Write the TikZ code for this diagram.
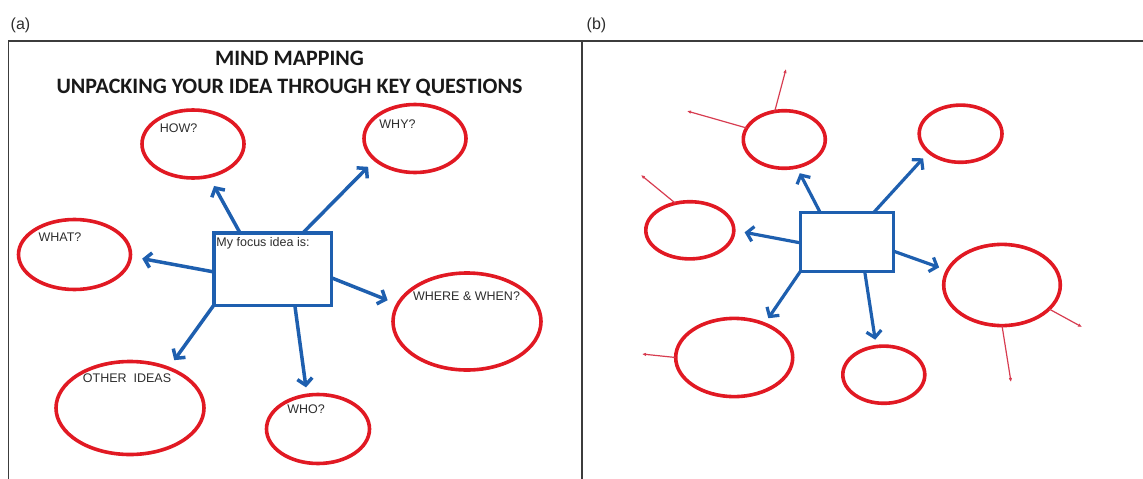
\documentclass[tikz,border=0pt]{standalone}
\usepackage{fontspec}
\setmainfont{Liberation Sans}
\newfontfamily\titlefont{Carlito}
\usetikzlibrary{arrows.meta,shapes.geometric,calc}
\definecolor{eblue}{RGB}{30,95,175}
\definecolor{ered}{RGB}{225,25,35}
\definecolor{tred}{RGB}{215,60,80}
\definecolor{framecol}{RGB}{60,60,60}
\definecolor{ink}{RGB}{45,45,45}
\begin{document}
\begin{tikzpicture}[x=1pt,y=-1pt,
  bubble/.style={ellipse,draw=ered,line width=3.6pt,inner sep=0pt,outer sep=0pt},
  focus/.style={rectangle,draw=eblue,line width=3.5pt,inner sep=0pt,outer sep=0pt},
  link/.style={draw=eblue,line width=3.5pt,-{Straight Barb[length=6.5pt,width=15pt]}},
  linkb/.style={link,line width=3.2pt},
  twig/.style={draw=tred,line width=1.2pt,-{Latex[length=4pt,width=3.5pt]}},
  qtext/.style={font=\fontsize{12.5}{14}\selectfont,text=ink,inner sep=0pt},
  paneltag/.style={font=\fontsize{16}{18}\selectfont,text=ink,inner sep=0pt},
  frameline/.style={draw=framecol,line width=1.5pt}]
\useasboundingbox (0,0) rectangle (1143,479);

% frame
\draw[frameline] (8.5,479) -- (8.5,41) -- (1143,41);
\draw[frameline] (582,41) -- (582,479);

\node[paneltag] (taga) at (20.5,25) {(a)};
\node[paneltag] (tagb) at (596.5,25) {(b)};

% title
\node[font=\titlefont\bfseries\fontsize{22}{28}\selectfont,align=center,inner sep=0pt,text=black!90] (title) at (289.5,74) {MIND MAPPING\\UNPACKING YOUR IDEA THROUGH KEY QUESTIONS};

% panel (a)
\node[focus,minimum width=117.5pt,minimum height=72.5pt] (focusA) at (272.5,269) {};
\node[bubble,minimum width=102pt,minimum height=68pt] (how) at (193,144) {};
\node[bubble,minimum width=102pt,minimum height=68pt] (why) at (415,138.5) {};
\node[bubble,minimum width=112pt,minimum height=70pt] (what) at (74.5,254.5) {};
\node[bubble,minimum width=148pt,minimum height=97pt] (where) at (467,321.5) {};
\node[bubble,minimum width=148pt,minimum height=93pt] (other) at (130,408) {};
\node[bubble,minimum width=103pt,minimum height=69pt] (who) at (318,429) {};

\node[qtext] (howlbl) at (178.5,128) {HOW?};
\node[qtext] (whylbl) at (397.5,124) {WHY?};
\node[qtext] (whatlbl) at (60,237) {WHAT?};
\node[qtext] (focuslbl) at (263,243) {My focus idea is:};
\node[qtext] (wherelbl) at (466.5,296) {WHERE \& WHEN?};
\node[qtext] (otherlbl) at (127,378) {OTHER\ \ IDEAS};
\node[qtext] (wholbl) at (306,409) {WHO?};

\draw[link,shorten >=11pt] ($(focusA.north west)!0.223!(focusA.north east)$) -- (how.296);
\draw[link,shorten >=10pt] ($(focusA.north west)!0.76!(focusA.north east)$) -- (why.208);
\draw[link,shorten >=12pt] ($(focusA.north west)!0.54!(focusA.south west)$) -- (what.358);
\draw[link,shorten >=11pt] ($(focusA.north east)!0.62!(focusA.south east)$) -- (where.166);
\draw[link,shorten >=10pt] (focusA.south west) -- (other.46);
\draw[link,shorten >=8pt] ($(focusA.south west)!0.69!(focusA.south east)$) -- (who.108);

% panel (b)
\node[focus,line width=3.2pt,minimum width=93pt,minimum height=59pt] (focusB) at (847,241.7) {};
\node[bubble,minimum width=82pt,minimum height=57.6pt] (bt) at (784.3,139.5) {};
\node[bubble,minimum width=82.8pt,minimum height=57.2pt] (btr) at (960.6,133.7) {};
\node[bubble,minimum width=88pt,minimum height=57.2pt] (bl) at (689.8,230.3) {};
\node[bubble,minimum width=116.6pt,minimum height=81.2pt] (br) at (1002,285) {};
\node[bubble,minimum width=117pt,minimum height=78.2pt] (bbl) at (734.2,357.5) {};
\node[bubble,minimum width=82pt,minimum height=57.2pt] (bbm) at (883.8,374.7) {};

\draw[linkb,shorten >=7pt] ($(focusB.north west)!0.21!(focusB.north east)$) -- (bt.294);
\draw[linkb,shorten >=8.5pt] ($(focusB.north west)!0.79!(focusB.north east)$) -- (btr.210);
\draw[linkb,shorten >=11pt] ($(focusB.north west)!0.52!(focusB.south west)$) -- (bl.0);
\draw[linkb,shorten >=9pt] ($(focusB.north east)!0.66!(focusB.south east)$) -- (br.165);
\draw[linkb,shorten >=7pt] (focusB.south west) -- (bbl.48);
\draw[linkb,shorten >=7pt] ($(focusB.south west)!0.69!(focusB.south east)$) -- (bbm.105);

\coordinate (e1) at (786,69);
\coordinate (e2) at (687,111);
\coordinate (e3) at (641,175);
\coordinate (e4) at (642,354);
\coordinate (e5) at (1082,327);
\coordinate (e6) at (1011,382);
\draw[twig] (bt.109) -- (e1);
\draw[twig] (bt.163) -- (e2);
\draw[twig] (bl.118) -- (e3);
\draw[twig] (bbl.180) -- (e4);
\draw[twig] (br.333) -- (e5);
\draw[twig] (br.270) -- (e6);
\end{tikzpicture}
\end{document}
